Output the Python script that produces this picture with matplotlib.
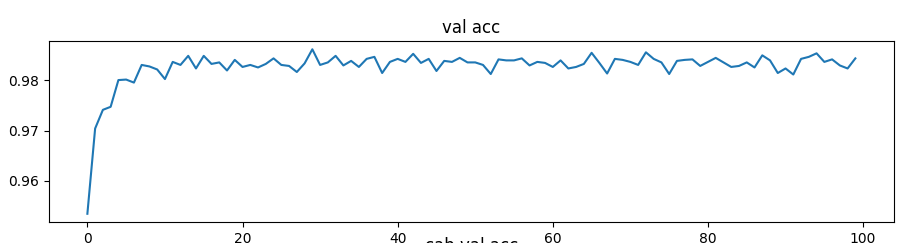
import matplotlib
matplotlib.use('Agg')
import matplotlib.pyplot as plt

# validation accuracy per epoch
epochs = list(range(100))
val_acc = [
    0.9535, 0.9704, 0.9741, 0.9747, 0.9800, 0.9801, 0.9795, 0.9830, 0.9827, 0.9821,
    0.9802, 0.9836, 0.9830, 0.9848, 0.9823, 0.9848, 0.9832, 0.9835, 0.9819, 0.9840,
    0.9826, 0.9830, 0.9825, 0.9832, 0.9843, 0.9830, 0.9828, 0.9816, 0.9833, 0.9861,
    0.9830, 0.9835, 0.9848, 0.9829, 0.9838, 0.9826, 0.9842, 0.9846, 0.9814, 0.9836,
    0.9842, 0.9836, 0.9852, 0.9834, 0.9842, 0.9818, 0.9838, 0.9836, 0.9844, 0.9835,
    0.9835, 0.9830, 0.9812, 0.9841, 0.9839, 0.9839, 0.9843, 0.9829, 0.9836, 0.9834,
    0.9826, 0.9839, 0.9823, 0.9826, 0.9832, 0.9854, 0.9834, 0.9813, 0.9842, 0.9840,
    0.9836, 0.9830, 0.9855, 0.9842, 0.9835, 0.9812, 0.9838, 0.9840, 0.9841, 0.9828,
    0.9836, 0.9844, 0.9835, 0.9826, 0.9828, 0.9835, 0.9825, 0.9849, 0.9839, 0.9814,
    0.9823, 0.9811, 0.9842, 0.9846, 0.9853, 0.9836, 0.9841, 0.9829, 0.9823, 0.9843,
]

fig = plt.figure(figsize=(9.12, 2.43), dpi=100)
ax = fig.add_subplot(111)
fig.subplots_adjust(left=0.0537, right=0.980, top=0.831, bottom=0.0864)

ax.plot(epochs, val_acc)
ax.set_title('val acc')
ax.set_xticks([0, 20, 40, 60, 80, 100])
ax.set_yticks([0.96, 0.97, 0.98])

# title of the next subplot, cut off by the crop
fig.text(0.517, -0.032, 'cab val acc', ha='center', va='baseline', fontsize=12)

fig.savefig('out.png', dpi=100)
